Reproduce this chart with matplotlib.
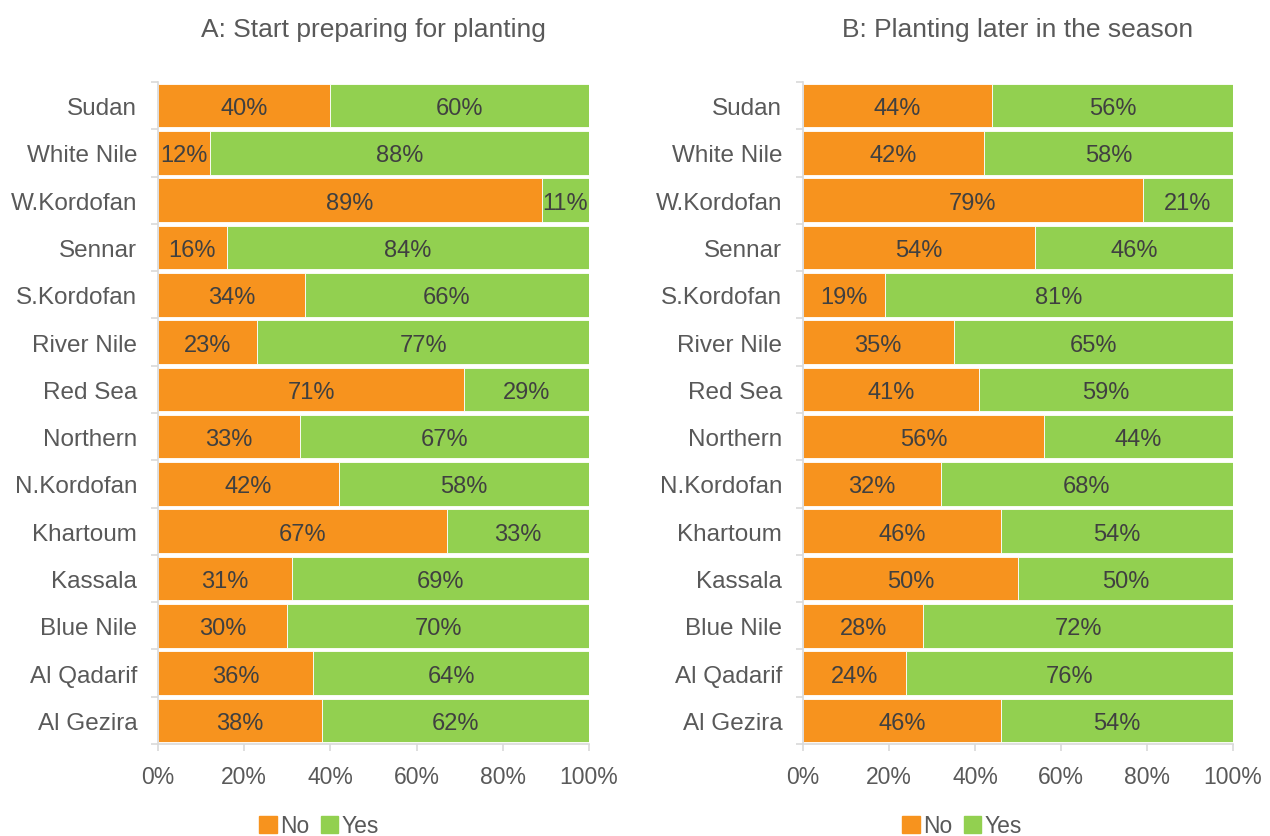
import numpy as np
import matplotlib.pyplot as plt
from matplotlib.patches import Patch

plt.rcParams["font.family"] = ["Liberation Sans", "DejaVu Sans"]

states = ["Sudan", "White Nile", "W.Kordofan", "Sennar", "S.Kordofan",
          "River Nile", "Red Sea", "Northern", "N.Kordofan", "Khartoum",
          "Kassala", "Blue Nile", "Al Qadarif", "Al Gezira"]

# percent answering "No" and "Yes"
prep_no = [40, 12, 89, 16, 34, 23, 71, 33, 42, 67, 31, 30, 36, 38]
prep_yes = [60, 88, 11, 84, 66, 77, 29, 67, 58, 33, 69, 70, 64, 62]
late_no = [44, 42, 79, 54, 19, 35, 41, 56, 32, 46, 50, 28, 24, 46]
late_yes = [56, 58, 21, 46, 81, 65, 59, 44, 68, 54, 50, 72, 76, 54]

titles = ["A: Start preparing for planting", "B: Planting later in the season"]

ORANGE = "#F7931E"
GREEN = "#92D050"
TXT = "#404040"
LBL = "#595959"
AXC = "#D9D9D9"


def draw_panel(ax, no, yes, title):
    y = np.arange(len(states))
    no = np.array(no)
    yes = np.array(yes)
    ax.barh(y, no, height=0.92, color=ORANGE, edgecolor="white", linewidth=0.6)
    ax.barh(y, yes, left=no, height=0.92, color=GREEN, edgecolor="white", linewidth=0.6)
    for i in range(len(states)):
        ax.text(no[i] / 2, y[i], f"{no[i]}%", ha="center", va="center_baseline",
                fontsize=17, color=TXT)
        ax.text(no[i] + yes[i] / 2, y[i], f"{yes[i]}%", ha="center",
                va="center_baseline", fontsize=17, color=TXT)

    ax.set_xlim(0, 100)
    ax.set_ylim(len(states) - 0.5, -0.5)
    ax.set_yticks(y)
    ax.set_yticklabels(states, fontsize=17.5, color=LBL)
    ax.set_yticks(np.arange(-0.5, len(states)), minor=True)
    ax.tick_params(axis="y", which="major", length=0, pad=15)
    ax.tick_params(axis="y", which="minor", length=5, color=AXC, width=1.2)
    ax.set_xticks(np.arange(0, 101, 20))
    ax.set_xticklabels([f"{v}%" for v in range(0, 101, 20)], fontsize=16.5, color=LBL)
    ax.tick_params(axis="x", length=5, color=AXC, width=1.2, pad=10)
    for s in ["top", "right"]:
        ax.spines[s].set_visible(False)
    for s in ["left", "bottom"]:
        ax.spines[s].set_color(AXC)
        ax.spines[s].set_linewidth(1.2)
    ax.set_title(title, fontsize=19, color=LBL, pad=33)


fig = plt.figure(figsize=(12.7, 8.37), dpi=100)
ax1 = fig.add_axes([158 / 1270, 1 - 745 / 837, 431 / 1270, 662 / 837])
ax2 = fig.add_axes([803 / 1270, 1 - 745 / 837, 430 / 1270, 662 / 837])

draw_panel(ax1, prep_no, prep_yes, titles[0])
draw_panel(ax2, late_no, late_yes, titles[1])

handles = [Patch(color=ORANGE, label="No"), Patch(color=GREEN, label="Yes")]
for cx in [319 / 1270, 962 / 1270]:
    fig.legend(handles=handles, loc="center", bbox_to_anchor=(cx, 1 - 827 / 837),
               ncol=2, frameon=False, fontsize=16.5, handlelength=0.75,
               handleheight=0.75, handletextpad=0.15, columnspacing=0.5,
               labelcolor=LBL, borderpad=0.1)

fig.savefig("out.png", dpi=100)
